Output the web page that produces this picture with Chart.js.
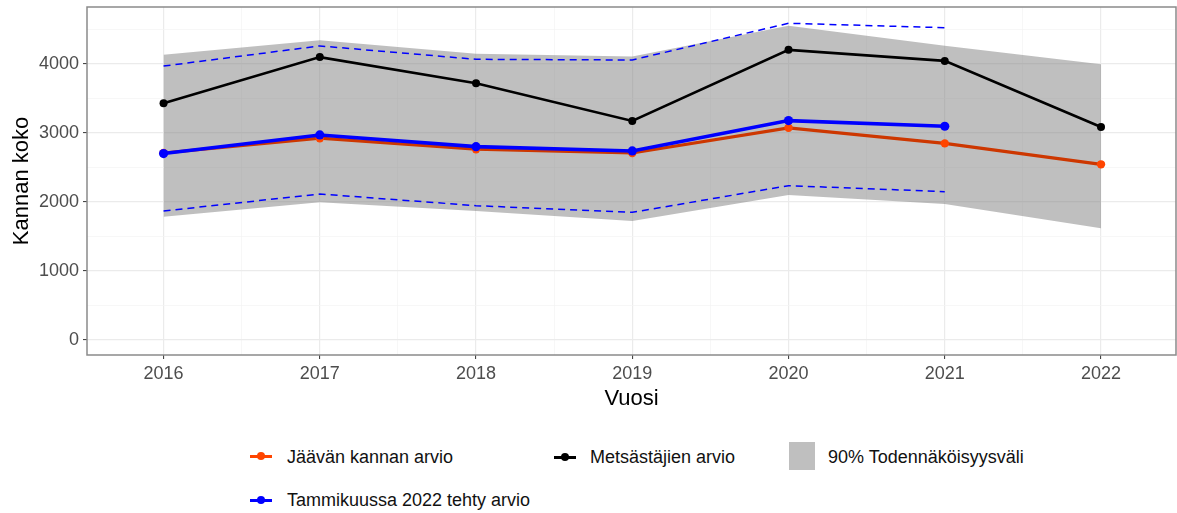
<!DOCTYPE html>
<html>
<head>
<meta charset="utf-8">
<script src="https://cdn.jsdelivr.net/npm/chart.js@4/dist/chart.umd.min.js"></script>
<style>
  body { margin:0; background:#fff; font-family:"Liberation Sans", Arial, sans-serif; }
  #wrap { position:relative; width:1177px; height:513px; }
  #c { position:absolute; left:0; top:0; }
  .leg { position:absolute; font-size:18px; color:#111; line-height:20px; white-space:nowrap; }
  .sym { position:absolute; width:22px; height:3px; }
  .sym i { position:absolute; left:7px; top:-3px; width:8px; height:8px; border-radius:50%; }
  .box { position:absolute; width:26px; height:28px; background:#bfbfbf; }
</style>
</head>
<body>
<div id="wrap">
  <canvas id="c" width="1177" height="420"></canvas>

  <div class="sym" style="left:250px;top:455px;background:#ff4500"><i style="background:#ff4500"></i></div>
  <div class="leg" style="left:287px;top:447px">Jäävän kannan arvio</div>

  <div class="sym" style="left:554px;top:456px;background:#000"><i style="background:#000"></i></div>
  <div class="leg" style="left:590px;top:447px">Metsästäjien arvio</div>

  <div class="box" style="left:789px;top:442px"></div>
  <div class="leg" style="left:828px;top:447px">90% Todennäköisyysväli</div>

  <div class="sym" style="left:250px;top:499px;background:#0000ff"><i style="background:#0000ff"></i></div>
  <div class="leg" style="left:287px;top:490px">Tammikuussa 2022 tehty arvio</div>
</div>

<script>
/* ---------- Data ---------- */
const years       = [2016, 2017, 2018, 2019, 2020, 2021, 2022];
const jaava       = [2710, 2925, 2765, 2710, 3075, 2850, 2546];
const metsastajat = [3430, 4100, 3722, 3175, 4205, 4045, 3088];
const tammikuu    = [2702, 2972, 2802, 2740, 3180, 3098];
const bandUpper   = [4135, 4345, 4150, 4110, 4555, 4265, 3995];
const bandLower   = [1785, 1995, 1870, 1725, 2100, 1970, 1618];
const tamUpper    = [3970, 4262, 4068, 4058, 4590, 4526];
const tamLower    = [1870, 2116, 1947, 1850, 2237, 2150];

// major ticks get labels, minor ones only a faint grid line
const yMajor = [0, 1000, 2000, 3000, 4000];
const yMinor = [500, 1500, 2500, 3500, 4500];
const xMinor = [2016.5, 2017.5, 2018.5, 2019.5, 2020.5, 2021.5];

const pts = arr => arr.map((v, i) => ({ x: years[i], y: v }));
const isMajorX = v => years.includes(v);
const isMajorY = v => yMajor.includes(v);

/* ---------- Panel border (ggplot style) ---------- */
const panelBorder = {
  id: 'panelBorder',
  afterDraw(chart){
    const { ctx, chartArea:a } = chart;
    ctx.save();
    ctx.strokeStyle = '#8a8a8a';
    ctx.lineWidth = 1.5;
    ctx.strokeRect(a.left, a.top, a.right - a.left, a.bottom - a.top);
    ctx.restore();
  }
};

const tickFont = { family:'"Liberation Sans", Arial, sans-serif', size:18 };
const titleFont = { family:'"Liberation Sans", Arial, sans-serif', size:22 };

new Chart(document.getElementById('c'), {
  type: 'line',
  data: {
    datasets: [
      { data: pts(bandLower), borderWidth:0, pointRadius:0, fill:false, order:6 },
      { data: pts(bandUpper), borderWidth:0, pointRadius:0, fill:'-1',
        backgroundColor:'rgba(127,127,127,0.5)', order:6 },
      { data: pts(tamLower), borderColor:'#0000ff', borderWidth:1.5, borderDash:[7,5],
        pointRadius:0, fill:false, order:5 },
      { data: pts(tamUpper), borderColor:'#0000ff', borderWidth:1.5, borderDash:[7,5],
        pointRadius:0, fill:false, order:5 },
      { data: pts(metsastajat), borderColor:'#000', borderWidth:2.6,
        pointRadius:4, pointBackgroundColor:'#000', pointBorderWidth:0, fill:false, order:3 },
      { data: pts(jaava), borderColor:'#cd3700', borderWidth:3.2,
        pointRadius:4.2, pointBackgroundColor:'#ff4500', pointBorderWidth:0, fill:false, order:2 },
      { data: pts(tammikuu), borderColor:'#0000ff', borderWidth:3.6,
        pointRadius:4.6, pointBackgroundColor:'#0000ff', pointBorderWidth:0, fill:false, order:1 },
    ]
  },
  options: {
    responsive:false,
    devicePixelRatio:1,
    animation:false,
    layout:{ autoPadding:false, padding:{ left:9, top:7, right:1, bottom:8 } },
    plugins:{ legend:{ display:false }, tooltip:{ enabled:false } },
    elements:{ line:{ tension:0 } },
    scales:{
      x:{
        type:'linear', min:2015.51, max:2022.48,
        afterBuildTicks: s => {
          s.ticks = years.concat(xMinor).sort((a, b) => a - b).map(v => ({ value:v }));
        },
        afterFit: s => { s.height = 57; s.paddingLeft = 0; s.paddingRight = 0; },
        ticks:{ autoSkip:false, maxRotation:0, color:'#4d4d4d', font:tickFont, padding:4,
          callback: v => isMajorX(v) ? String(v) : '' },
        grid:{
          color: c => isMajorX(c.tick.value) ? '#ebebeb' : '#f4f4f4',
          lineWidth: c => isMajorX(c.tick.value) ? 1.2 : 0.7,
          tickColor: c => isMajorX(c.tick.value) ? '#333' : 'rgba(0,0,0,0)',
          tickLength:4, tickWidth:1
        },
        border:{ display:false },
        title:{ display:true, text:'Vuosi', color:'#000', font:titleFont, padding:0 }
      },
      y:{
        min:-217, max:4826,
        afterBuildTicks: s => {
          s.ticks = yMajor.concat(yMinor).sort((a, b) => a - b).map(v => ({ value:v }));
        },
        afterFit: s => { s.width = 78; s.paddingTop = 0; s.paddingBottom = 0; },
        ticks:{ autoSkip:false, color:'#4d4d4d', font:tickFont, padding:4,
          callback: v => isMajorY(v) ? String(v) : '' },
        grid:{
          color: c => isMajorY(c.tick.value) ? '#ebebeb' : '#f4f4f4',
          lineWidth: c => isMajorY(c.tick.value) ? 1.2 : 0.7,
          tickColor: c => isMajorY(c.tick.value) ? '#333' : 'rgba(0,0,0,0)',
          tickLength:4, tickWidth:1
        },
        border:{ display:false },
        title:{ display:true, text:'Kannan koko', color:'#000', font:titleFont, padding:0 }
      }
    }
  },
  plugins:[panelBorder]
});
</script>
</body>
</html>
